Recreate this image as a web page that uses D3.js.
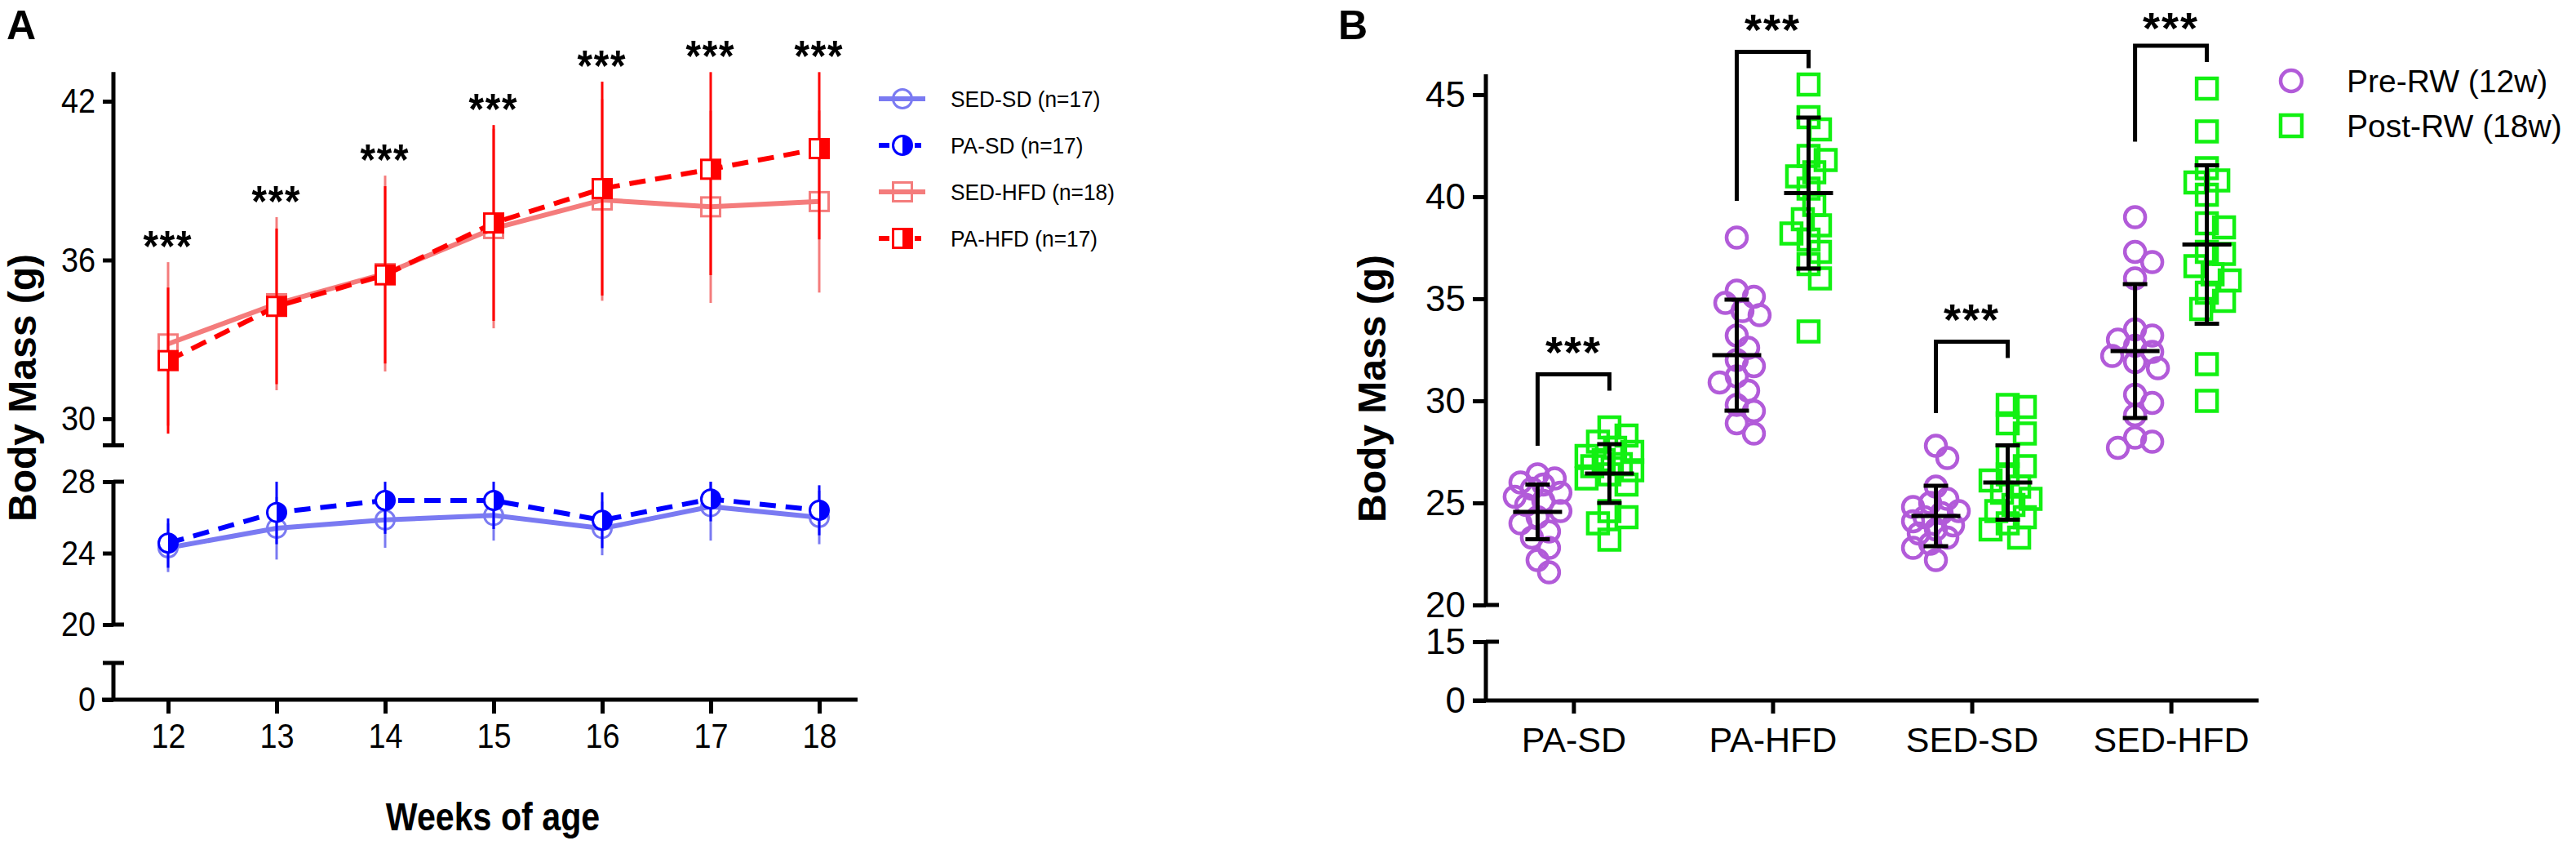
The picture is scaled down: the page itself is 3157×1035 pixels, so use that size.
<!DOCTYPE html>
<html><head><meta charset="utf-8">
<script src="https://cdn.jsdelivr.net/npm/d3@7/dist/d3.min.js"></script>
<style>
body{margin:0;background:#fff}
svg{display:block}
text{font-family:Arial,"Liberation Sans",sans-serif;fill:#000}
</style></head>
<body><svg id="c" width="3157" height="1035"></svg>
<script>
// ---------------- Panel A data ----------------
const weeks = [12, 13, 14, 15, 16, 17, 18];
const seriesNames = ["SED-SD (n=17)", "PA-SD (n=17)", "SED-HFD (n=18)", "PA-HFD (n=17)"];
const sedSdMean  = [24.30, 25.39, 25.86, 26.11, 25.38, 26.60, 26.00];
const sedSdSD    = [1.36, 1.75, 1.56, 1.41, 1.50, 1.90, 1.50];
const paSdMean   = [24.56, 26.28, 26.95, 26.95, 25.84, 27.03, 26.40];
const paSdSD     = [1.38, 1.78, 1.87, 1.60, 1.56, 1.25, 1.40];
const sedHfdMean = [32.83, 34.35, 35.49, 37.19, 38.27, 38.01, 38.21];
const sedHfdSD   = [3.09, 3.27, 3.70, 3.77, 3.81, 3.63, 3.44];
const paHfdMean  = [32.20, 34.25, 35.44, 37.40, 38.70, 39.43, 40.21];
const paHfdSD    = [2.76, 2.94, 3.35, 3.70, 4.04, 4.00, 3.43];
const weekSig    = ["***", "***", "***", "***", "***", "***", "***"];
const yTicksA1 = [30, 36, 42];
const yTicksA2 = [20, 24, 28];
const yTicksA3 = [0];

// ---------------- Panel B data ----------------
const groups = ["PA-SD", "PA-HFD", "SED-SD", "SED-HFD"];
const legendB = ["Pre-RW (12w)", "Post-RW (18w)"];
const prePaSd   = [26.4, 26.2, 26.0, 25.9, 25.7, 25.5, 25.3, 25.1, 24.9, 24.6, 24.3, 24.0, 23.6, 23.3, 22.8, 22.2, 21.6];
const postPaSd  = [28.7, 28.3, 28.0, 27.7, 27.5, 27.3, 27.1, 26.9, 26.8, 26.6, 26.4, 26.2, 25.9, 24.6, 24.3, 24.0, 23.2];
const prePaHfd  = [38.0, 35.4, 35.1, 34.8, 34.4, 34.2, 33.2, 32.6, 32.0, 31.7, 31.2, 30.9, 30.5, 29.8, 29.5, 28.9, 28.4];
const postPaHfd = [45.5, 43.9, 43.3, 42.0, 41.8, 41.2, 41.0, 40.4, 39.6, 38.9, 38.6, 38.2, 37.9, 37.3, 36.7, 36.0, 33.4];
const preSedSd  = [27.8, 27.2, 25.8, 25.2, 25.0, 24.8, 24.6, 24.5, 24.3, 24.1, 23.9, 23.7, 23.5, 23.3, 23.0, 22.8, 22.2];
const postSedSd = [29.8, 29.7, 28.9, 28.4, 27.3, 26.8, 26.4, 26.1, 25.8, 25.5, 25.2, 24.9, 24.6, 24.3, 24.0, 23.7, 23.3];
const preSedHfd = [39.0, 37.3, 36.8, 36.0, 33.5, 33.2, 33.0, 32.7, 32.4, 32.2, 31.9, 31.6, 30.3, 29.9, 29.3, 28.2, 28.0, 27.7];
const postSedHfd= [45.3, 43.2, 41.4, 40.8, 40.7, 40.1, 38.7, 38.5, 37.3, 37.2, 36.6, 36.2, 35.9, 35.3, 34.9, 34.5, 31.8, 30.0];
const preMean  = [24.56, 32.24, 24.36, 32.44];
const preSD    = [1.34, 2.72, 1.48, 3.28];
const postMean = [26.44, 40.18, 26.00, 37.66];
const postSD   = [1.44, 3.70, 1.82, 3.88];
const bracketTop = [31.3, 47.1, 32.9, 47.4];
const bracketLeftEnd = [27.8, 39.8, 29.4, 42.7];
const groupSig = ["***", "***", "***", "***"];
const yTicksB1 = [20, 25, 30, 35, 40, 45];
const yTicksB2 = [0, 15];

// ---------------- drawing ----------------
const svg = d3.select("#c");
const AX = 5; // axis stroke
const cBlue = "#0000ff", cBlueL = "#7a7af2", cRed = "#ff0000", cRedL = "#f47c7c";
const cPurple = "#b25bd9", cGreen = "#12f012";
const STAR_FS = 54;

function ctext(g, x, y, str, fs, anchor, weight, sx) {
  return g.append("text")
    .attr("transform", `translate(${x},${y}) scale(${sx},1)`)
    .attr("text-anchor", anchor).attr("font-size", fs).attr("font-weight", weight)
    .text(str);
}
function stars(g, x, cy, str, sx) {
  // cy = visual centre of the asterisks
  return ctext(g, x, cy + 0.57 * STAR_FS, str, STAR_FS, "middle", "bold", sx).attr("letter-spacing", 2);
}
function styleAxis(sel, fs, sx, dx) {
  sel.select(".domain").remove();
  sel.selectAll(".tick line").attr("stroke", "#000").attr("stroke-width", AX);
  sel.selectAll(".tick text").attr("font-size", fs).attr("fill", "#000")
    .attr("font-family", "Arial, 'Liberation Sans', sans-serif");
  if (sx !== 1) sel.selectAll(".tick text").attr("transform", `scale(${sx},1)`);
  if (dx !== undefined) sel.selectAll(".tick text").attr("x", dx);
}

// ======== Panel A ========
const gA = svg.append("g");
const axA = 139, baseA = 857;
const xA = d3.scaleLinear().domain([12, 18]).range([206, 1004]);
const yA1 = d3.scaleLinear().domain([30, 42]).range([513, 124]);
const yA2 = d3.scaleLinear().domain([20, 28]).range([765, 590]);
const yA3 = d3.scaleLinear().domain([0, 10]).range([baseA, 812]);
const seg1 = [29.0, 43.1];
const SXA = 0.88;

ctext(gA, 8, 48, "A", 50, "start", "bold", 1);

// y axis segments
gA.append("line").attr("x1", axA).attr("x2", axA).attr("y1", yA1(seg1[1])).attr("y2", yA1(seg1[0])).attr("stroke", "#000").attr("stroke-width", AX);
gA.append("line").attr("x1", axA).attr("x2", axA).attr("y1", yA2(28)).attr("y2", yA2(20)).attr("stroke", "#000").attr("stroke-width", AX);
gA.append("line").attr("x1", axA).attr("x2", axA).attr("y1", yA3(10)).attr("y2", yA3(0)).attr("stroke", "#000").attr("stroke-width", AX);
[[yA1(seg1[0]), true], [yA2(28), false], [yA2(20), false], [yA3(10), true]].forEach(([y, both]) => {
  gA.append("line").attr("x1", both ? axA - 13 : axA).attr("x2", axA + 13).attr("y1", y).attr("y2", y).attr("stroke", "#000").attr("stroke-width", AX);
});
const ga1 = gA.append("g").attr("transform", `translate(${axA},0)`).call(d3.axisLeft(yA1).tickValues(yTicksA1).tickSize(13).tickPadding(8));
const ga2 = gA.append("g").attr("transform", `translate(${axA},0)`).call(d3.axisLeft(yA2).tickValues(yTicksA2).tickSize(13).tickPadding(8));
const ga3 = gA.append("g").attr("transform", `translate(${axA},0)`).call(d3.axisLeft(yA3).tickValues(yTicksA3).tickSize(13).tickPadding(8));
[ga1, ga2, ga3].forEach(g => styleAxis(g, 43, SXA, -25));

// x axis
gA.append("line").attr("x1", 125).attr("x2", 1051).attr("y1", baseA).attr("y2", baseA).attr("stroke", "#000").attr("stroke-width", AX);
const gax = gA.append("g").attr("transform", `translate(0,${baseA})`).call(d3.axisBottom(xA).tickValues(weeks).tickFormat(d3.format("d")).tickSize(17).tickPadding(8));
styleAxis(gax, 43, SXA);
gax.selectAll(".tick text").attr("y", 28);

// titles
gA.append("text").attr("transform", "translate(44,475) rotate(-90)").attr("text-anchor", "middle")
  .attr("font-size", 48).attr("font-weight", "bold").text("Body Mass (g)");
ctext(gA, 604, 1017, "Weeks of age", 49, "middle", "bold", 0.84);

// series
const seriesA = [
  {mean: sedSdMean, sd: sedSdSD, y: yA2, clip: [20, 28], col: cBlueL, dash: null, shape: "circle", half: false},
  {mean: paSdMean, sd: paSdSD, y: yA2, clip: [20, 28], col: cBlue, dash: "20,12", shape: "circle", half: true},
  {mean: sedHfdMean, sd: sedHfdSD, y: yA1, clip: seg1, col: cRedL, dash: null, shape: "square", half: false},
  {mean: paHfdMean, sd: paHfdSD, y: yA1, clip: seg1, col: cRed, dash: "20,12", shape: "square", half: true}
];
function marker(g, shape, half, col, x, y, s) {
  if (shape === "circle") {
    const r = s / 2;
    g.append("circle").attr("cx", x).attr("cy", y).attr("r", r).attr("fill", "#fff").attr("fill-opacity", half ? 1 : 0).attr("stroke", col).attr("stroke-width", 3);
    if (half) g.append("path").attr("d", `M${x},${y - r}A${r},${r} 0 0 1 ${x},${y + r}Z`).attr("fill", col);
  } else {
    g.append("rect").attr("x", x - s / 2).attr("y", y - s / 2).attr("width", s).attr("height", s).attr("fill", "#fff").attr("fill-opacity", half ? 1 : 0).attr("stroke", col).attr("stroke-width", 3);
    if (half) g.append("rect").attr("x", x).attr("y", y - s / 2).attr("width", s / 2).attr("height", s).attr("fill", col);
  }
}
seriesA.forEach(s => {
  const g = gA.append("g");
  weeks.forEach((w, i) => {
    const lo = Math.max(s.clip[0], s.mean[i] - s.sd[i]), hi = Math.min(s.clip[1], s.mean[i] + s.sd[i]);
    g.append("line").attr("x1", xA(w)).attr("x2", xA(w)).attr("y1", s.y(hi)).attr("y2", s.y(lo)).attr("stroke", s.col).attr("stroke-width", 3);
  });
  const line = d3.line().x((d, i) => xA(weeks[i])).y(d => s.y(d));
  g.append("path").attr("d", line(s.mean)).attr("fill", "none").attr("stroke", s.col).attr("stroke-width", 6)
    .attr("stroke-dasharray", s.dash);
  weeks.forEach((w, i) => marker(g, s.shape, s.half, s.col, xA(w), s.y(s.mean[i]), 23));
});
// significance stars
weeks.forEach((w, i) => {
  const top = Math.min(seg1[1], Math.max(sedHfdMean[i] + sedHfdSD[i], paHfdMean[i] + paHfdSD[i]));
  stars(gA, xA(w), yA1(top) - 32, weekSig[i], SXA);
});
// legend A
const legY = [121, 178, 235, 292];
seriesA.forEach((s, i) => {
  const y = legY[i];
  gA.append("line").attr("x1", 1077).attr("x2", 1134).attr("y1", y).attr("y2", y).attr("stroke", s.col).attr("stroke-width", 6)
    .attr("stroke-dasharray", s.dash ? "13,31,8" : null);
  marker(gA, s.shape, s.half, s.col, 1106, y, 23);
  ctext(gA, 1165, y + 10, seriesNames[i], 28, "start", "normal", 0.94);
});

// ======== Panel B ========
const gB = svg.append("g");
const axB = 1821, baseB = 858;
const xB = d3.scalePoint().domain(groups).range([axB, 2768]).padding(0.44);
const yB1 = d3.scaleLinear().domain([20, 45]).range([741, 116]);
const yB2 = d3.scaleLinear().domain([0, 15]).range([baseB, 786]);
const OFF = 44;

ctext(gB, 1640, 48, "B", 50, "start", "bold", 1);
gB.append("line").attr("x1", axB).attr("x2", axB).attr("y1", yB1(46)).attr("y2", yB1(20)).attr("stroke", "#000").attr("stroke-width", AX);
gB.append("line").attr("x1", axB).attr("x2", axB).attr("y1", yB2(15)).attr("y2", yB2(0)).attr("stroke", "#000").attr("stroke-width", AX);
[yB1(20), yB2(15)].forEach(y => gB.append("line").attr("x1", axB).attr("x2", axB + 16).attr("y1", y).attr("y2", y).attr("stroke", "#000").attr("stroke-width", AX));
const gb1 = gB.append("g").attr("transform", `translate(${axB},0)`).call(d3.axisLeft(yB1).tickValues(yTicksB1).tickSize(16).tickPadding(9));
const gb2 = gB.append("g").attr("transform", `translate(${axB},0)`).call(d3.axisLeft(yB2).tickValues(yTicksB2).tickSize(16).tickPadding(9));
[gb1, gb2].forEach(g => styleAxis(g, 44, 1));
gB.append("line").attr("x1", 1805).attr("x2", 2768).attr("y1", baseB).attr("y2", baseB).attr("stroke", "#000").attr("stroke-width", AX);
const gbx = gB.append("g").attr("transform", `translate(0,${baseB})`).call(d3.axisBottom(xB).tickSize(16).tickPadding(8));
styleAxis(gbx, 43, 1);
gbx.selectAll(".tick text").attr("y", 32);
gB.append("text").attr("transform", "translate(1698,476) rotate(-90)").attr("text-anchor", "middle")
  .attr("font-size", 48).attr("font-weight", "bold").text("Body Mass (g)");

function swarm(values, y, minDist, step, maxOff) {
  const placed = [];
  return values.map(v => {
    const py = y(v);
    let best = 0, bestScore = -1, done = false;
    for (let k = 0; k <= 10 && !done; k++) {
      const cands = k === 0 ? [0] : [k * step, -k * step];
      for (const o of cands) {
        if (Math.abs(o) > maxOff) continue;
        let md = Infinity;
        placed.forEach(p => { const d = Math.hypot(p.x - o, p.y - py); if (d < md) md = d; });
        if (md >= minDist) { best = o; done = true; break; }
        if (md > bestScore) { bestScore = md; best = o; }
      }
    }
    placed.push({x: best, y: py});
    return {v, dx: best, y: py};
  });
}
const preData = [prePaSd, prePaHfd, preSedSd, preSedHfd];
const postData = [postPaSd, postPaHfd, postSedSd, postSedHfd];
const R = 12.5, S = 25;
groups.forEach((gname, gi) => {
  const cx = xB(gname);
  const xPre = cx - OFF, xPost = cx + OFF;
  swarm(preData[gi], yB1, 20, 7, 28).forEach(p => {
    gB.append("circle").attr("cx", xPre + p.dx).attr("cy", p.y).attr("r", R).attr("fill", "none").attr("stroke", cPurple).attr("stroke-width", 4.5);
  });
  swarm(postData[gi], yB1, 20, 7, 28).forEach(p => {
    gB.append("rect").attr("x", xPost + p.dx - S / 2).attr("y", p.y - S / 2).attr("width", S).attr("height", S).attr("fill", "none").attr("stroke", cGreen).attr("stroke-width", 4.5);
  });
  [[xPre, preMean[gi], preSD[gi]], [xPost, postMean[gi], postSD[gi]]].forEach(([x, m, sd]) => {
    gB.append("line").attr("x1", x).attr("x2", x).attr("y1", yB1(m + sd)).attr("y2", yB1(m - sd)).attr("stroke", "#000").attr("stroke-width", 5);
    [m + sd, m - sd].forEach(v => gB.append("line").attr("x1", x - 15).attr("x2", x + 15).attr("y1", yB1(v)).attr("y2", yB1(v)).attr("stroke", "#000").attr("stroke-width", 5));
    gB.append("line").attr("x1", x - 30).attr("x2", x + 30).attr("y1", yB1(m)).attr("y2", yB1(m)).attr("stroke", "#000").attr("stroke-width", 5);
  });
  const yt = yB1(bracketTop[gi]);
  gB.append("path").attr("d", `M${xPre},${yB1(bracketLeftEnd[gi])}V${yt}H${xPost}V${yt + 20}`)
    .attr("fill", "none").attr("stroke", "#000").attr("stroke-width", 5);
  stars(gB, cx, Math.max(yt - 39, 22), groupSig[gi], 1);
});
// legend B
const lgX = 2808, lgY = [99, 154];
gB.append("circle").attr("cx", lgX).attr("cy", lgY[0]).attr("r", 13).attr("fill", "none").attr("stroke", cPurple).attr("stroke-width", 4.5);
gB.append("rect").attr("x", lgX - 13).attr("y", lgY[1] - 13).attr("width", 26).attr("height", 26).attr("fill", "none").attr("stroke", cGreen).attr("stroke-width", 4.5);
legendB.forEach((t, i) => ctext(gB, 2876, lgY[i] + 14, t, 39, "start", "normal", 1));
</script>
</body></html>
